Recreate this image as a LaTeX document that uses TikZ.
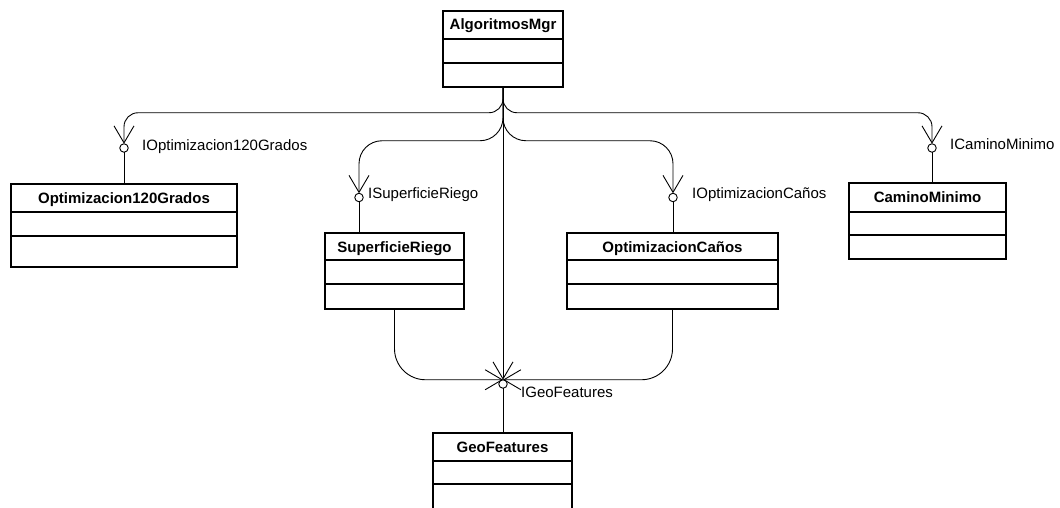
\documentclass[tikz,border=0pt]{standalone}
\usepackage{fontspec}
\setmainfont{Liberation Sans}
\usetikzlibrary{arrows.meta,calc}

% one UML class: name, left, top, right, bottom, first divider, second divider, title
\newcommand\umlclass[8]{%
  \node[classbox, anchor=north west, minimum width={#4-#2}, minimum height={#5-#3}] (#1) at (#2,#3) {};
  \draw[classline] (#2,#6) -- (#4,#6) (#2,#7) -- (#4,#7);
  \node[classtitle] (#1-title) at ({(#2+#4)/2},#3+19) {#8};
}

\begin{document}
\begin{tikzpicture}[x=1pt, y=-1pt,
  font=\fontsize{15}{18}\selectfont,
  classbox/.style={draw=black, line width=1.1pt, inner sep=0pt, outer sep=0pt},
  classline/.style={draw=black, line width=1.1pt},
  classtitle/.style={anchor=base, inner sep=0pt, font=\fontsize{15}{18}\selectfont\bfseries},
  iface/.style={circle, draw=black, line width=0.9pt, minimum size=8.5pt, inner sep=0pt, outer sep=0pt},
  ilabel/.style={anchor=base west, inner sep=0pt},
  conn/.style={draw=black, line width=0.9pt},
  req/.style={conn, -{Straight Barb[length=17pt, width=20pt]}},
]
\useasboundingbox (0,0) rectangle (1060,508);
\clip (0,0) rectangle (1060,508);

% classes
\umlclass{mgr}{443}{11}{563}{87}{39}{63}{AlgoritmosMgr}
\umlclass{opt}{11}{184}{237}{267}{212}{236}{Optimizacion120Grados}
\umlclass{sr}{325}{233}{464}{309}{260}{284}{SuperficieRiego}
\umlclass{oc}{567}{233}{778}{309}{260}{284}{OptimizacionCaños}
\umlclass{cm}{849}{183}{1006}{259}{212}{235}{CaminoMinimo}
\umlclass{geo}{433}{433}{572}{512}{461}{484}{GeoFeatures}

% provided interfaces (lollipops)
\node[iface] (iopt) at (124,148) {};
\node[iface] (isr)  at (359,197.5) {};
\node[iface] (ioc)  at (673,197.5) {};
\node[iface] (icm)  at (932,148) {};
\node[iface] (igeo) at (503,384) {};

\node[ilabel] (iopt-l) at (142,150.5) {IOptimizacion120Grados};
\node[ilabel] (isr-l)  at (368,198) {ISuperficieRiego};
\node[ilabel] (ioc-l)  at (692,198) {IOptimizacionCaños};
\node[ilabel] (icm-l)  at (950,149.5) {ICaminoMinimo};
\node[ilabel] (igeo-l) at (521,397.5) {IGeoFeatures};

% lollipop stems into the providing classes
\draw[conn] (iopt.south) -- (opt.north -| iopt.south);
\draw[conn] (isr.south)  -- (sr.north -| isr.south);
\draw[conn] (ioc.south)  -- (oc.north -| ioc.south);
\draw[conn] (icm.south)  -- (cm.north -| icm.south);
\draw[conn] (igeo.south) -- (geo.north -| igeo.south);

% requirements of AlgoritmosMgr
\draw[req, rounded corners=14pt] (mgr.south) |- ([yshift=31pt]iopt.north) -- (iopt.north);
\draw[req, rounded corners=14pt] (mgr.south) |- ([yshift=31pt]icm.north) -- (icm.north);
\draw[req, rounded corners=23pt] (mgr.south) |- ([yshift=52.5pt]isr.north) -- (isr.north);
\draw[req, rounded corners=23pt] (mgr.south) |- ([yshift=52.5pt]ioc.north) -- (ioc.north);
\draw[req] (mgr.south) -- (igeo.north);

% requirements on IGeoFeatures
\draw[req, rounded corners=31pt] (sr.south) |- (igeo.north);
\draw[req, rounded corners=31pt] (oc.south) |- (igeo.north);
\end{tikzpicture}
\end{document}
